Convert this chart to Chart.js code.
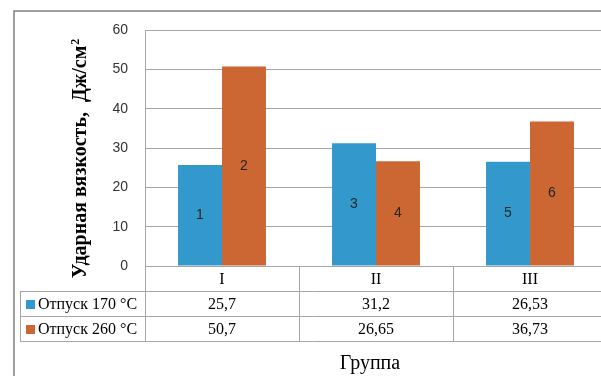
<!DOCTYPE html>
<html>
<head>
<meta charset="utf-8">
<script src="https://cdn.jsdelivr.net/npm/chart.js@4/dist/chart.umd.min.js"></script>
<style>
  html, body { margin: 0; padding: 0; background: #fff; overflow: hidden; }
  #wrap { width: 601px; height: 376px; overflow: hidden; position: relative; }
</style>
</head>
<body>
<div id="wrap"><canvas id="graph" width="620" height="376"></canvas></div>
<script>
// data
const groupes = ["I", "II", "III"]
const series = ["Отпуск 170 °С", "Отпуск 260 °С"]
const otpusk170 = [25.7, 31.2, 26.53]
const otpusk260 = [50.7, 26.65, 36.73]
const tableau170 = ["25,7", "31,2", "26,53"]
const tableau260 = ["50,7", "26,65", "36,73"]
const numeros = [["1", "3", "5"], ["2", "4", "6"]]
const yTicks = [0, 10, 20, 30, 40, 50, 60]

const bleu = "#3399CC"
const orange = "#CC6633"
const gris = "#A6A6A6"
const serif = "'Liberation Serif', 'Times New Roman', serif"

const tablePlugin = {
    id: "tablePlugin",
    afterDraw(chart) {
        let ctx = chart.ctx
        let area = chart.chartArea
        let x = chart.scales.x
        let rowH = 25
        let top = area.bottom
        let colW = (area.right - area.left) / groupes.length
        let legendLeft = 20

        ctx.save()

        // bar numbers
        ctx.font = "14px 'Liberation Sans', Arial, sans-serif"
        ctx.fillStyle = "#262626"
        ctx.textAlign = "center"
        ctx.textBaseline = "middle"
        for (let d = 0; d < chart.data.datasets.length; d++) {
            let meta = chart.getDatasetMeta(d)
            meta.data.forEach((bar, i) => {
                ctx.fillText(numeros[d][i], bar.x, (bar.y + bar.base) / 2)
            })
        }

        // table lines
        ctx.strokeStyle = gris
        ctx.lineWidth = 1
        ctx.beginPath()
        for (let r = 1; r <= 3; r++) {
            let yy = Math.round(top + r * rowH) + 0.5
            ctx.moveTo(legendLeft, yy)
            ctx.lineTo(area.right, yy)
        }
        ctx.moveTo(legendLeft + 0.5, top + rowH)
        ctx.lineTo(legendLeft + 0.5, top + 3 * rowH)
        for (let i = 0; i <= groupes.length; i++) {
            let xx = Math.round(area.left + i * colW) + 0.5
            ctx.moveTo(xx, top)
            ctx.lineTo(xx, top + 3 * rowH + 0.5)
        }
        ctx.stroke()

        // table text
        ctx.fillStyle = "#000"
        ctx.font = "16px " + serif
        ctx.textAlign = "center"
        ctx.textBaseline = "middle"
        groupes.forEach((g, i) => {
            let cx = x.getPixelForValue(i)
            ctx.fillText(g, cx, top + rowH * 0.5 + 1)
            ctx.fillText(tableau170[i], cx, top + rowH * 1.5 + 1)
            ctx.fillText(tableau260[i], cx, top + rowH * 2.5 + 1)
        })

        // legend in table
        let couleurs = [bleu, orange]
        ctx.textAlign = "left"
        series.forEach((s, k) => {
            let cy = top + rowH * (1.5 + k)
            ctx.fillStyle = couleurs[k]
            ctx.fillRect(26, Math.round(cy) - 4, 9, 9)
            ctx.fillStyle = "#000"
            ctx.fillText(s, 38, cy + 1)
        })

        // x title
        ctx.font = "20px " + serif
        ctx.textAlign = "center"
        ctx.fillText("Группа", 370, 364)

        // y title
        ctx.translate(86, 159)
        ctx.rotate(-Math.PI / 2)
        ctx.textBaseline = "alphabetic"
        ctx.font = "bold 20px " + serif
        let t1 = "Ударная вязкость,  Дж/см"
        let w1 = ctx.measureText(t1).width
        ctx.font = "bold 12px " + serif
        let w2 = ctx.measureText("2").width
        let start = -(w1 + w2) / 2
        ctx.textAlign = "left"
        ctx.font = "bold 20px " + serif
        ctx.fillText(t1, start, 0)
        ctx.font = "bold 12px " + serif
        ctx.fillText("2", start + w1 + 1, -7)

        ctx.restore()

        // outer frame
        ctx.save()
        ctx.strokeStyle = "#808080"
        ctx.lineWidth = 1.5
        ctx.beginPath()
        ctx.moveTo(14, 376)
        ctx.lineTo(14, 11)
        ctx.lineTo(620, 11)
        ctx.stroke()
        ctx.restore()
    }
}

const config = {
    type: "bar",
    data: {
        labels: groupes,
        datasets: [
            { label: series[0], data: otpusk170, backgroundColor: bleu },
            { label: series[1], data: otpusk260, backgroundColor: orange }
        ]
    },
    options: {
        responsive: false,
        animation: false,
        layout: { padding: { top: 30, right: 13, bottom: 110, left: 0 } },
        plugins: {
            legend: { display: false },
            tooltip: { enabled: false }
        },
        datasets: {
            bar: { categoryPercentage: 0.571, barPercentage: 1.0 }
        },
        scales: {
            x: { display: false },
            y: {
                min: 0,
                max: 60,
                afterFit: (scale) => { scale.width = 145 },
                afterBuildTicks: (scale) => { scale.ticks = yTicks.map(v => ({ value: v })) },
                ticks: {
                    padding: 17,
                    color: "#333333",
                    font: { family: "'Liberation Sans', Arial, sans-serif", size: 14 }
                },
                grid: { color: gris, drawTicks: false },
                border: { display: true, color: gris }
            }
        }
    },
    plugins: [tablePlugin]
}

const chartGraph = new Chart(document.getElementById("graph").getContext("2d"), config)
</script>
</body>
</html>
